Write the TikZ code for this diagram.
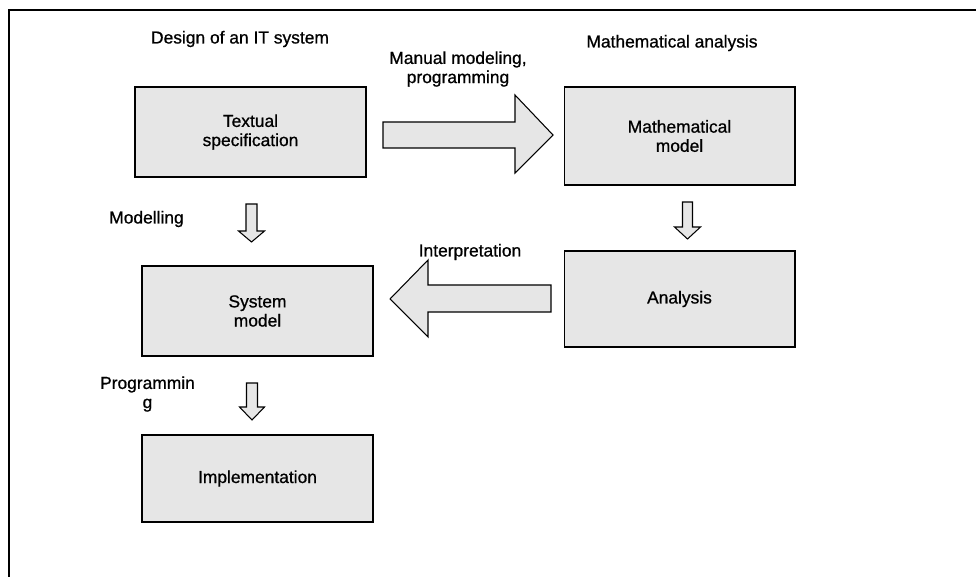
\documentclass[tikz,border=0pt]{standalone}
\usepackage{fontspec}
\setmainfont{Liberation Sans}[FakeBold=0.8]
\definecolor{boxgray}{HTML}{E6E6E6}

\begin{document}
\begin{tikzpicture}[x=0.02cm,y=-0.02cm,
    box/.style={rectangle,draw,fill=boxgray,line width=0.6pt,minimum width=4.62cm,align=center,font=\fontsize{9.9}{10.9}\selectfont},
    lbl/.style={align=center,inner sep=0pt,font=\fontsize{9.9}{10.9}\selectfont},
    blockarrow/.style={draw,fill=boxgray,line width=0.6pt,line join=miter}]
    \useasboundingbox (0,0) rectangle (976,577);
    %frame
    \draw [line width=1.1pt] (9,577) -- (9,10) -- (976,10);

    %headings
    \node (HD) at (240,39) [lbl]{Design of an IT system};
    \node (HM) at (672,43) [lbl]{Mathematical analysis};

    %boxes
    \node (TS) at (250.5,132) [box,minimum height=1.8cm]{Textual\\specification};
    \node (MM) at (679.5,136) [box,minimum height=1.96cm]{Mathematical\\model};
    \node (AN) at (679.5,299) [box,minimum height=1.92cm]{Analysis};
    \node (SM) at (257.5,311) [box,minimum height=1.8cm]{System\\model};
    \node (IM) at (257.5,478.5) [box,minimum height=1.74cm]{Implementation};

    %labels of the steps
    \node (LMP) at (458,69) [lbl]{Manual modeling,\\programming};
    \node (LMO) at (146.5,219) [lbl]{Modelling};
    \node (LIN) at (470,252) [lbl]{Interpretation};
    \node (LPR) at (147.5,394) [lbl]{Programmin\\g};

    %big arrows
    \draw [blockarrow] (383,122) -- (515,122) -- (515,95) -- (553,135) -- (515,173) -- (515,148) -- (383,148) -- cycle;
    \draw [blockarrow] (551,285) -- (428,285) -- (428,260) -- (390,299) -- (428,337) -- (428,312) -- (551,312) -- cycle;

    %small arrows
    \draw [blockarrow] (246,204) -- (257,204) -- (257,231) -- (264.5,231) -- (251.5,242) -- (238.5,231) -- (246,231) -- cycle;
    \draw [blockarrow] (682.5,202) -- (692.5,202) -- (692.5,227) -- (700.5,227) -- (687.5,239) -- (674.5,227) -- (682.5,227) -- cycle;
    \draw [blockarrow] (246.5,383) -- (257.5,383) -- (257.5,407) -- (264.5,407) -- (252,420) -- (239.5,407) -- (246.5,407) -- cycle;
  \end{tikzpicture}
\end{document}
